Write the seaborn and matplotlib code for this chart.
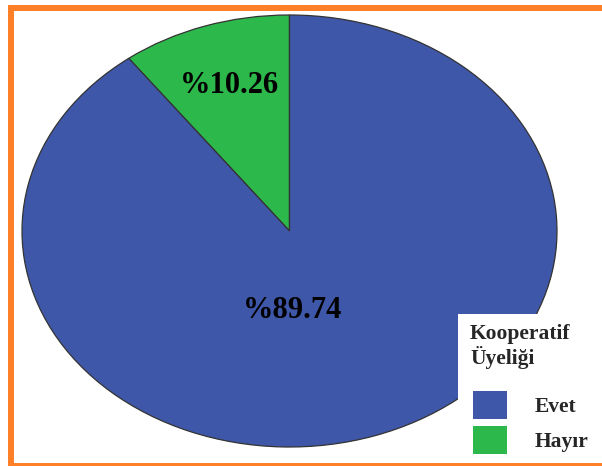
import matplotlib
matplotlib.use("Agg")
import matplotlib.pyplot as plt
import seaborn as sns
from matplotlib.patches import Rectangle, Patch

sns.set_style("white")
plt.rcParams['font.family'] = ['Liberation Serif', 'DejaVu Serif']

categories = ["Evet", "Hayır"]
values = [89.74, 10.26]
colors = ["#3F57A8", "#2DB84B"]
legend_title = "Kooperatif\nÜyeliği"

W, H = 602, 466
fig = plt.figure(figsize=(W / 100, H / 100), dpi=100)

# pie axes placed to produce an elliptical pie
x0, x1, y0, y1 = 22, 557, 15, 447
ax = fig.add_axes([x0 / W, 1 - y1 / H, (x1 - x0) / W, (y1 - y0) / H])

# draw in reverse order so Hayır starts at the top going counter-clockwise
order = [1, 0]
wedges, texts, autotexts = ax.pie(
    [values[i] for i in order],
    colors=[colors[i] for i in order],
    startangle=90,
    counterclock=True,
    autopct=lambda p: f"%{p:.2f}",
    pctdistance=0.71,
    wedgeprops=dict(edgecolor="#333333", linewidth=0.9),
    textprops=dict(fontsize=22, fontweight="bold", color="black"),
    radius=1.0,
)
ax.set_aspect("auto")
ax.set_xlim(-1, 1)
ax.set_ylim(-1, 1)
ax.axis("off")
# Evet label sits nearer the centre in the reference
autotexts[1].set_position((0.01, -0.37))

# legend background
fig.add_artist(Rectangle((458 / W, 1 - 463 / H), (W - 458) / W, (463 - 314) / H,
                         transform=fig.transFigure, facecolor="white",
                         edgecolor="none", zorder=5))

fs = 15.5
fpx = fs * 100 / 72
fig.text(470 / W, 1 - 324 / H, legend_title, ha="left", va="top",
         fontsize=fs, fontweight="bold", linespacing=1.1, zorder=6)

# handle height such that the drawn patch is ~28 px tall
patch_px = 28
hh = (patch_px / fpx - 0.245) / 0.65
handles = [Patch(facecolor=colors[i], edgecolor="none") for i in range(len(categories))]
pad = 0.2
leg = fig.legend(handles, categories,
                 loc="upper left",
                 bbox_to_anchor=((473 - pad * fpx) / W, 1 - (391 - pad * fpx) / H),
                 frameon=False,
                 prop=dict(size=fs, weight="bold"),
                 handlelength=34 / fpx, handleheight=hh, handletextpad=28 / fpx,
                 labelspacing=7 / fpx, borderpad=pad, borderaxespad=0)
leg.set_zorder(6)

# orange frame
fig.add_artist(Rectangle((11 / W, 0 / H), (W + 10) / W, (H - 7.5) / H,
                         transform=fig.transFigure, facecolor="none",
                         edgecolor="#FF7F27", linewidth=4.3, zorder=10))

fig.savefig("out.png", dpi=100)
